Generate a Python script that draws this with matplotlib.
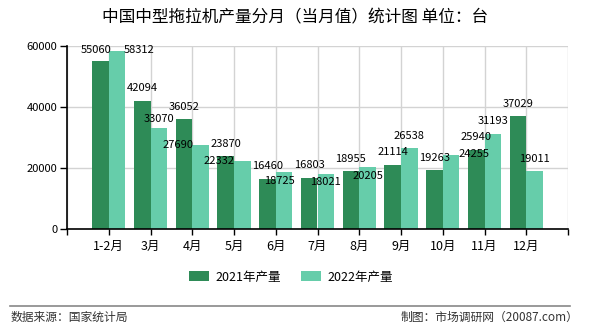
import numpy as np
import matplotlib
matplotlib.use("Agg")
import matplotlib.pyplot as plt
from matplotlib.lines import Line2D

plt.rcParams['font.family'] = ['Noto Sans CJK SC', 'DejaVu Sans']

months = ['1-2月', '3月', '4月', '5月', '6月', '7月', '8月', '9月', '10月', '11月', '12月']
y2021 = [55060, 42094, 36052, 23870, 16460, 16803, 18955, 21114, 19263, 25940, 37029]
y2022 = [58312, 33070, 27690, 22332, 18725, 18021, 20205, 26538, 24255, 31193, 19011]
yticks = [0, 20000, 40000, 60000]

# label offsets (pixels, x right / y down) relative to bar top centre
off2021 = [(-4, -11)] + [(0, -12.5)] * 10
off2022 = [(22, -1), (0, -9), (-23, 0), (-23, 0), (-5, 9), (0, 8), (0, 8.5),
           (0, -12.5), (22.5, -1.5), (0, -13), (0, -12)]

c21 = '#2e8b57'
c22 = '#66cdaa'

fig = plt.figure(figsize=(5.9, 3.3), dpi=100)
ax = fig.add_axes([67/590, 1-229/330, 501/590, 183/330])

x = np.arange(1, len(months)+1)
w = 0.4
ax.bar(x - w/2, y2021, w, color=c21, label='2021年产量', zorder=2)
ax.bar(x + w/2, y2022, w, color=c22, label='2022年产量', zorder=2)

for xi, v, (dx, dy) in zip(x - w/2, y2021, off2021):
    ax.annotate(str(v), (xi, v), xytext=(dx*0.72, -dy*0.72), textcoords='offset points',
                ha='center', va='center', fontsize=8, zorder=3)
for xi, v, (dx, dy) in zip(x + w/2, y2022, off2022):
    ax.annotate(str(v), (xi, v), xytext=(dx*0.72, -dy*0.72), textcoords='offset points',
                ha='center', va='center', fontsize=8, zorder=3)

ax.set_xlim(0, 12)
ax.set_ylim(0, 60000)
ax.set_yticks(yticks)
ax.set_yticklabels([str(t) for t in yticks], fontsize=8)
ax.set_xticks(np.arange(0, 13))
ax.set_xticklabels([''] + months + [''], fontsize=9)
ax.tick_params(axis='x', length=4, width=1, pad=4)
ax.tick_params(axis='y', length=5, width=1, pad=2)
ax.grid(True, color='#d3d3d3', linewidth=1, zorder=0)
ax.set_axisbelow(True)
for s in ['top', 'right']:
    ax.spines[s].set_visible(False)
for s in ['left', 'bottom']:
    ax.spines[s].set_linewidth(1.2)
    ax.spines[s].set_color('black')
ax.spines['bottom'].set_zorder(4)

fig.text(0.5, 1-18/330, '中国中型拖拉机产量分月（当月值）统计图 单位：台', ha='center', va='center', fontsize=12)

fig.legend(loc='center', bbox_to_anchor=(291/590, 1-277/330), ncol=2, frameon=False,
           fontsize=9, handlelength=1.6, handleheight=0.9, columnspacing=1.6, handletextpad=0.5)

fig.add_artist(Line2D([10/590, 570/590], [1-306/330, 1-306/330], color='#888888', linewidth=1.2))
fig.text(11/590, 1-317/330, '数据来源：国家统计局', ha='left', va='center', fontsize=8.5, color='#333333')
fig.text(578/590, 1-317/330, '制图：市场调研网（20087.com）', ha='right', va='center', fontsize=8.5, color='#333333')

fig.savefig('out.png', dpi=100)
